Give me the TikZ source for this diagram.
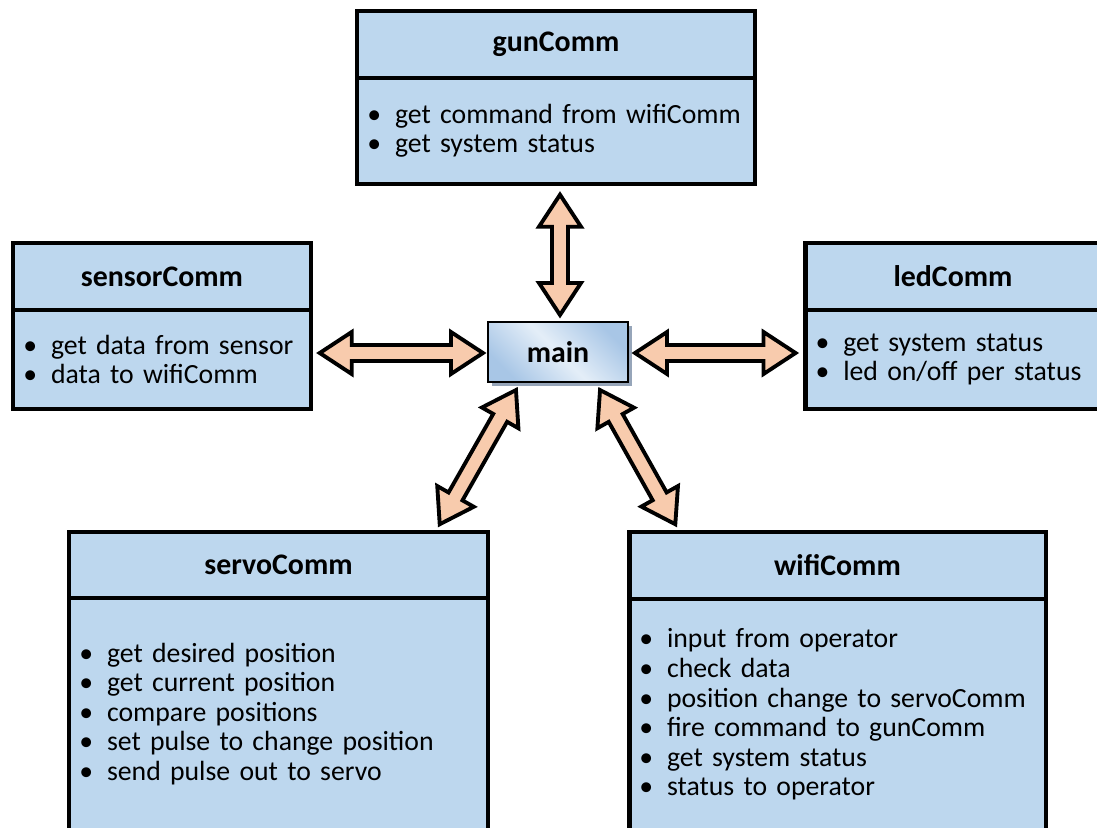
\documentclass[tikz,border=0pt]{standalone}
\usepackage{fontspec}
\setmainfont{Carlito}
\usetikzlibrary{positioning,calc,shadows}
\definecolor{boxblue}{RGB}{189,215,238}
\definecolor{arrowpeach}{RGB}{248,203,173}
\definecolor{mainblue}{RGB}{168,198,230}
\definecolor{mainlight}{RGB}{228,238,248}
\definecolor{mainshadow}{RGB}{150,165,185}
\newcommand{\itm}[1]{\mbox{\makebox[0.555cm][l]{\textbullet}#1}}

\begin{document}
\begin{tikzpicture}[
  x=0.02cm,y=-0.02cm,
  headbox/.style={rectangle,draw,line width=2.5pt,fill=boxblue,outer sep=0pt,
    minimum height=1.335cm,font=\fontsize{17}{20}\selectfont\bfseries},
  bodybox/.style={rectangle,draw,line width=2.5pt,fill=boxblue,outer sep=0pt,
    inner xsep=0.2cm,align=left,font=\fontsize{15.8}{16.8}\selectfont},
  mainbox/.style={rectangle,draw,line width=1.2pt,minimum width=2.8cm,minimum height=1.2cm,
    left color=mainblue,right color=mainblue,middle color=mainlight,shading angle=135,
    drop shadow={shadow xshift=2.3pt,shadow yshift=-2.3pt,fill=mainshadow,opacity=1},
    font=\fontsize{17}{20}\selectfont\bfseries},
  % double block arrow between two points
  dblarrow/.style={draw,line width=2.2pt,fill=arrowpeach,line join=miter,
    to path={
      -- ($(\tikztostart)!0.64cm!(\tikztotarget)!0.42cm!90:(\tikztotarget)$)
      -- ($(\tikztostart)!0.64cm!(\tikztotarget)!0.16cm!90:(\tikztotarget)$)
      -- ($(\tikztotarget)!0.64cm!(\tikztostart)!0.16cm!-90:(\tikztostart)$)
      -- ($(\tikztotarget)!0.64cm!(\tikztostart)!0.42cm!-90:(\tikztostart)$)
      -- (\tikztotarget)
      -- ($(\tikztotarget)!0.64cm!(\tikztostart)!0.42cm!90:(\tikztostart)$)
      -- ($(\tikztotarget)!0.64cm!(\tikztostart)!0.16cm!90:(\tikztostart)$)
      -- ($(\tikztostart)!0.64cm!(\tikztotarget)!0.16cm!-90:(\tikztotarget)$)
      -- ($(\tikztostart)!0.64cm!(\tikztotarget)!0.42cm!-90:(\tikztotarget)$)
      -- cycle}}
]
\useasboundingbox (0,0) rectangle (1097,827);

% ---------------- gunComm ----------------
\node[headbox,minimum width=7.95cm] (gunH) at (556,44.6) {gunComm};
\node[bodybox,minimum width=7.95cm,text width=7.55cm,minimum height=2.115cm,below=0pt of gunH] (gunB)
  {\itm{get command from wifiComm}\\ \itm{get system status}};

% ---------------- sensorComm ----------------
\node[headbox,minimum width=5.95cm] (sensorH) at (162,276.6) {sensorComm};
\node[bodybox,minimum width=5.95cm,text width=5.55cm,minimum height=1.975cm,below=0pt of sensorH] (sensorB)
  {\itm{get data from sensor}\\ \itm{data to wifiComm}};

% ---------------- ledComm ----------------
\node[headbox,minimum width=5.9cm] (ledH) at (953,276.6) {ledComm};
\node[bodybox,minimum width=5.9cm,text width=5.5cm,minimum height=1.975cm,below=0pt of ledH] (ledB)
  {\itm{get system status}\\ \itm{led on/off per status}};

% ---------------- servoComm ----------------
\node[headbox,minimum width=8.37cm,minimum height=1.315cm] (servoH) at (278.5,565.1) {servoComm};
\node[bodybox,minimum width=8.37cm,text width=7.97cm,minimum height=4.64cm,below=0pt of servoH] (servoB)
  {\itm{get desired position}\\ \itm{get current position}\\ \itm{compare positions}\\
   \itm{set pulse to change position}\\ \itm{send pulse out to servo}};

% ---------------- wifiComm ----------------
\node[headbox,minimum width=8.33cm] (wifiH) at (837.5,565.6) {wifiComm};
\node[bodybox,minimum width=8.33cm,text width=7.93cm,minimum height=4.62cm,below=0pt of wifiH] (wifiB)
  {\itm{input from operator}\\ \itm{check data}\\ \itm{position change to servoComm}\\
   \itm{fire command to gunComm}\\ \itm{get system status}\\ \itm{status to operator}};

% ---------------- main ----------------
\node[mainbox] (main) at (558,352) {main};

% arrows
\draw[dblarrow] ($(main.north)+(2,-6)$) to ($(gunB.south)+(4,11)$);
\draw[dblarrow] ($(main.west)+(-4,1)$) to ($(sensorB.east |- main.west)+(9,1)$);
\draw[dblarrow] ($(main.east)+(6,1)$) to ($(ledB.west |- main.east)+(-10,1)$);
\draw[dblarrow] ($(main.south west)+(29,7)$) to ($(servoH.north east)+(-48,-8)$);
\draw[dblarrow] ($(main.south east)+(-29,7)$) to ($(wifiH.north west)+(46,-8)$);

\end{tikzpicture}
\end{document}
